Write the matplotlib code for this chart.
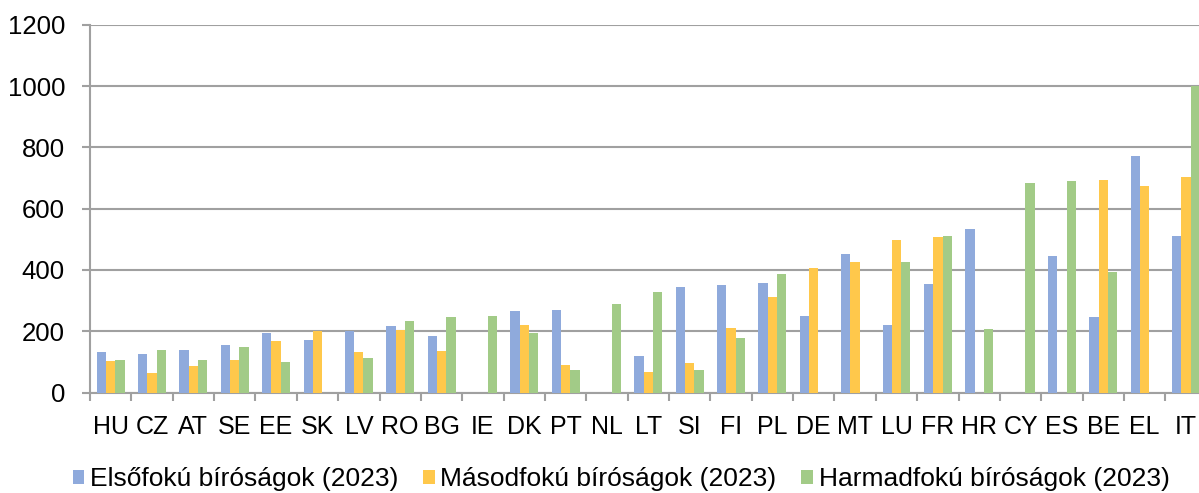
import numpy as np
import matplotlib
matplotlib.use("Agg")
import matplotlib.pyplot as plt

plt.rcParams['font.family'] = ['Liberation Sans', 'DejaVu Sans']

countries = ["HU", "CZ", "AT", "SE", "EE", "SK", "LV", "RO", "BG", "IE", "DK", "PT", "NL", "LT",
             "SI", "FI", "PL", "DE", "MT", "LU", "FR", "HR", "CY", "ES", "BE", "EL", "IT"]
nan = np.nan
first_instance = [132, 124, 138, 156, 194, 170, 202, 217, 185, nan, 265, 268, nan, 118,
                  345, 350, 358, 248, 452, 219, 353, 532, nan, 444, 245, 772, 510]
second_instance = [104, 62, 85, 106, 167, 200, 132, 203, 137, nan, 219, 89, nan, 68,
                   95, 210, 311, 405, 425, 497, 507, nan, nan, nan, 693, 674, 702]
third_instance = [107, 138, 107, 147, 101, nan, 112, 232, 247, 251, 194, 75, 288, 329,
                  75, 177, 386, nan, nan, 426, 510, 208, 682, 690, 392, nan, 1000]
series_labels = ["Elsőfokú bíróságok (2023)", "Másodfokú bíróságok (2023)",
                 "Harmadfokú bíróságok (2023)"]
yticks = [0, 200, 400, 600, 800, 1000, 1200]

colors = ["#8FAADC", "#FFC84B", "#A2CB87"]
grid_c = "#A0A0A0"

W, H = 1199, 493
fig = plt.figure(figsize=(W / 100, H / 100), dpi=100)
left, right, bottom, top = 90, 1206.7, 392.5, 24.7
ax = fig.add_axes([left / W, 1 - bottom / H, (right - left) / W, (bottom - top) / H])

x = np.arange(len(countries))
bw = 0.225
for i, (vals, lab) in enumerate(zip([first_instance, second_instance, third_instance], series_labels)):
    ax.bar(x + (i - 1) * bw, vals, width=bw, color=colors[i], label=lab, zorder=3,
           edgecolor="none")

ax.set_xlim(-0.5, len(countries) - 0.5)
ax.set_ylim(0, 1200)
ax.set_yticks(yticks)
ax.set_yticklabels([str(v) for v in yticks])
ax.set_xticks(x)
ax.set_xticklabels(countries)
ax.set_xticks(np.arange(-0.5, len(countries)), minor=True)

ax.grid(axis="y", color=grid_c, linewidth=1.5, zorder=0)
for s in ["top", "right"]:
    ax.spines[s].set_visible(False)
for s in ["left", "bottom"]:
    ax.spines[s].set_color(grid_c)
    ax.spines[s].set_linewidth(1.5)

ax.tick_params(axis="x", which="major", length=0, pad=16, labelsize=18)
ax.tick_params(axis="x", which="minor", length=6, width=1.5, color=grid_c)
ax.tick_params(axis="y", which="major", length=6, width=1.5, color=grid_c, pad=12, labelsize=18.5)

leg = fig.legend(loc="center", bbox_to_anchor=(621 / W, 1 - 479 / H), ncol=3, frameon=False,
                 fontsize=19, handlelength=0.45, handleheight=0.45, handletextpad=0.2,
                 columnspacing=0.95, borderaxespad=0)

fig.savefig("out.png", dpi=100)
